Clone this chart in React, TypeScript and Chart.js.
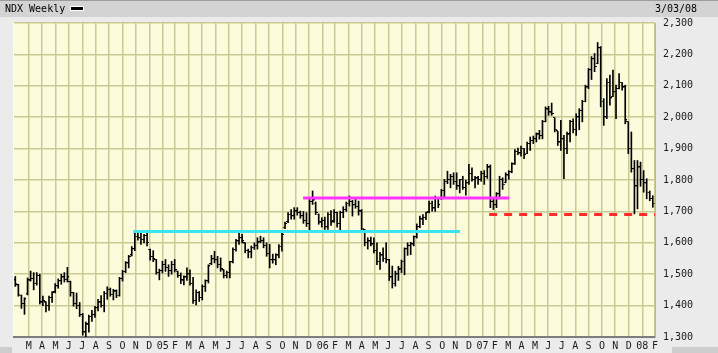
import React, { useEffect, useRef } from 'react';
import { Chart, registerables } from 'chart.js';

Chart.register(...registerables);

// Weekly OHLC of NDX, week index 0 = week of 1 Mar 2004 ... 208 = week of 25 Feb 2008
const highs = [
  1493, 1468, 1434, 1425, 1488, 1510, 1505, 1505, 1500, 1430,
  1412, 1430, 1445, 1470, 1485, 1500, 1505, 1522, 1478, 1442,
  1440, 1410, 1375, 1348, 1370, 1385, 1398, 1420, 1432, 1445,
  1460, 1456, 1452, 1450, 1490, 1512, 1540, 1560, 1588, 1630,
  1636, 1630, 1627, 1638, 1580, 1575, 1547, 1516, 1541, 1547,
  1530, 1541, 1547, 1510, 1504, 1495, 1520, 1514, 1490, 1450,
  1445, 1466, 1482, 1530, 1560, 1573, 1557, 1552, 1514, 1510,
  1541, 1584, 1611, 1632, 1627, 1600, 1580, 1590, 1600, 1616,
  1621, 1616, 1600, 1595, 1564, 1565, 1594, 1632, 1666, 1696,
  1706, 1712, 1712, 1701, 1700, 1696, 1738, 1765, 1730, 1692,
  1680, 1682, 1696, 1703, 1706, 1698, 1701, 1715, 1730, 1749,
  1735, 1740, 1733, 1706, 1643, 1616, 1618, 1616, 1600, 1570,
  1584, 1600, 1547, 1526, 1510, 1525, 1545, 1584, 1600, 1602,
  1622, 1660, 1685, 1690, 1698, 1733, 1733, 1749, 1743, 1770,
  1802, 1828, 1818, 1823, 1823, 1802, 1812, 1800, 1850, 1839,
  1812, 1812, 1828, 1830, 1850, 1848, 1743, 1760, 1812, 1807,
  1823, 1830, 1855, 1897, 1902, 1908, 1900, 1921, 1937, 1940,
  1950, 1958, 1990, 2033, 2035, 2045, 1998, 1955, 1990, 1942,
  1953, 1990, 1995, 2011, 2027, 2054, 2102, 2155, 2193, 2203,
  2238, 2225, 2059, 2123, 2134, 2150, 2102, 2139, 2110, 2102,
  1985, 1953, 1862, 1862, 1857, 1830, 1804, 1765, 1750,
];

const lows = [
  1461, 1430, 1391, 1372, 1434, 1478, 1450, 1465, 1405, 1400,
  1380, 1385, 1410, 1440, 1455, 1468, 1475, 1475, 1430, 1398,
  1390, 1365, 1306, 1300, 1315, 1350, 1362, 1383, 1395, 1380,
  1420, 1430, 1418, 1425, 1430, 1478, 1505, 1520, 1558, 1575,
  1608, 1595, 1600, 1590, 1545, 1540, 1500, 1482, 1504, 1509,
  1493, 1500, 1507, 1490, 1470, 1466, 1480, 1465, 1407, 1402,
  1413, 1418, 1445, 1472, 1530, 1536, 1520, 1509, 1488, 1488,
  1488, 1536, 1573, 1595, 1600, 1568, 1552, 1552, 1579, 1580,
  1600, 1584, 1557, 1520, 1535, 1530, 1552, 1573, 1645, 1664,
  1675, 1675, 1688, 1678, 1662, 1652, 1637, 1722, 1690, 1659,
  1650, 1643, 1643, 1655, 1665, 1650, 1637, 1680, 1700, 1717,
  1685, 1710, 1688, 1640, 1590, 1580, 1590, 1568, 1530, 1515,
  1541, 1536, 1480, 1456, 1462, 1480, 1505, 1498, 1560, 1562,
  1590, 1615, 1648, 1658, 1674, 1695, 1701, 1700, 1712, 1738,
  1743, 1788, 1775, 1786, 1770, 1759, 1770, 1752, 1786, 1796,
  1775, 1786, 1796, 1786, 1805, 1712, 1706, 1712, 1740, 1770,
  1791, 1802, 1823, 1850, 1881, 1876, 1868, 1884, 1894, 1916,
  1921, 1930, 1931, 1985, 2006, 2006, 1953, 1910, 1894, 1804,
  1884, 1921, 1950, 1942, 1960, 1985, 2049, 2091, 2120, 2145,
  2170, 2033, 1974, 1995, 2038, 2065, 1995, 2090, 2086, 1979,
  1884, 1825, 1692, 1708, 1780, 1761, 1740, 1734, 1713,
];

const opens = [
  1480, 1465, 1432, 1405, 1436, 1480, 1485, 1470, 1495, 1410,
  1410, 1400, 1425, 1442, 1462, 1478, 1490, 1482, 1475, 1440,
  1405, 1400, 1370, 1315, 1340, 1365, 1370, 1392, 1410, 1400,
  1438, 1450, 1435, 1445, 1432, 1485, 1508, 1535, 1560, 1580,
  1620, 1615, 1610, 1622, 1578, 1555, 1545, 1505, 1510, 1530,
  1520, 1510, 1530, 1508, 1495, 1480, 1490, 1500, 1470, 1415,
  1440, 1425, 1460, 1478, 1532, 1548, 1545, 1530, 1512, 1495,
  1505, 1540, 1578, 1605, 1615, 1598, 1575, 1570, 1585, 1590,
  1602, 1605, 1590, 1565, 1545, 1545, 1560, 1588, 1648, 1666,
  1690, 1685, 1700, 1695, 1685, 1670, 1660, 1730, 1725, 1690,
  1665, 1670, 1650, 1690, 1668, 1695, 1660, 1695, 1705, 1725,
  1730, 1720, 1715, 1700, 1640, 1600, 1605, 1595, 1575, 1540,
  1560, 1550, 1545, 1490, 1470, 1500, 1515, 1540, 1580, 1590,
  1595, 1618, 1650, 1675, 1680, 1697, 1725, 1710, 1740, 1740,
  1765, 1795, 1800, 1810, 1795, 1780, 1800, 1775, 1790, 1820,
  1800, 1805, 1800, 1820, 1810, 1840, 1730, 1720, 1755, 1800,
  1791, 1815, 1825, 1850, 1890, 1885, 1900, 1884, 1915, 1925,
  1930, 1945, 1940, 1985, 2025, 2015, 1998, 1955, 1920, 1930,
  1900, 1945, 1985, 1960, 2000, 2020, 2050, 2095, 2150, 2185,
  2170, 2220, 2050, 2000, 2110, 2065, 2080, 2090, 2110, 2095,
  1985, 1900, 1835, 1780, 1840, 1800, 1790, 1760, 1740,
];

const closes = [
  1470, 1435, 1405, 1420, 1480, 1485, 1470, 1495, 1410, 1415,
  1400, 1425, 1440, 1462, 1478, 1490, 1482, 1490, 1440, 1405,
  1400, 1370, 1315, 1340, 1365, 1370, 1392, 1410, 1400, 1438,
  1450, 1435, 1445, 1432, 1485, 1508, 1535, 1555, 1580, 1620,
  1615, 1610, 1622, 1600, 1555, 1548, 1505, 1510, 1530, 1520,
  1510, 1530, 1512, 1495, 1480, 1490, 1500, 1470, 1415, 1440,
  1425, 1460, 1478, 1525, 1548, 1545, 1530, 1515, 1495, 1505,
  1538, 1578, 1605, 1615, 1605, 1575, 1570, 1585, 1590, 1600,
  1605, 1590, 1565, 1545, 1545, 1560, 1588, 1625, 1660, 1690,
  1685, 1700, 1695, 1685, 1670, 1660, 1730, 1735, 1695, 1665,
  1670, 1650, 1690, 1665, 1695, 1660, 1695, 1705, 1725, 1730,
  1720, 1715, 1700, 1645, 1600, 1605, 1595, 1575, 1540, 1560,
  1550, 1545, 1490, 1470, 1500, 1515, 1540, 1580, 1590, 1595,
  1618, 1650, 1675, 1680, 1695, 1725, 1710, 1740, 1720, 1765,
  1795, 1800, 1810, 1795, 1780, 1800, 1775, 1790, 1820, 1800,
  1805, 1800, 1820, 1810, 1840, 1730, 1720, 1755, 1800, 1785,
  1815, 1825, 1850, 1890, 1885, 1900, 1880, 1915, 1925, 1930,
  1945, 1940, 1985, 2025, 2015, 2010, 1960, 1920, 1930, 1900,
  1945, 1985, 1960, 2000, 2020, 2050, 2095, 2150, 2185, 2160,
  2220, 2050, 2000, 2110, 2060, 2080, 2090, 2110, 2095, 1990,
  1900, 1835, 1780, 1840, 1800, 1790, 1760, 1740, 1725,
];

// month labels placed on the monthly grid lines (Apr 2004 ... Mar 2008 boundaries)
const monthLabels = [
  'M', 'A', 'M', 'J', 'J', 'A', 'S', 'O', 'N', 'D', '05', 'F',
  'M', 'A', 'M', 'J', 'J', 'A', 'S', 'O', 'N', 'D', '06', 'F',
  'M', 'A', 'M', 'J', 'J', 'A', 'S', 'O', 'N', 'D', '07', 'F',
  'M', 'A', 'M', 'J', 'J', 'A', 'S', 'O', 'N', 'D', '08', 'F',
];

const yTickValues = [1300, 1400, 1500, 1600, 1700, 1800, 1900, 2000, 2100, 2200, 2300];

// drawn trend / support lines: [startWeek, endWeek], level
const cyanWeeks = [38.5, 145.1];
const cyanLevel = 1636;
const magentaWeeks = [93.9, 161.2];
const magentaLevel = 1743;
const redWeeks = [154.6, 208.72];
const redLevel = 1690;

const FONT = "'DejaVu Sans Mono', 'Liberation Mono', monospace";

export default function App() {
  const ref = useRef<HTMLCanvasElement>(null);

  useEffect(() => {
    const canvas = ref.current;
    if (!canvas) return;

    const mkTick = (left: boolean) => {
      const c = document.createElement('canvas');
      c.width = 4;
      c.height = 2;
      const g = c.getContext('2d')!;
      g.fillStyle = '#000';
      g.fillRect(left ? 0 : 2, 0, 2, 1);
      return c;
    };
    const openTick = mkTick(true);
    const closeTick = mkTick(false);

    const DAY = 86400000;
    const base = Date.UTC(2004, 2, 1);
    const gridPos = monthLabels.map((_, k) => (Date.UTC(2004, 3 + k, 1) - base) / DAY / 7);

    const bgPlugin = {
      id: 'bgPlugin',
      beforeDraw(chart: any) {
        const { ctx, chartArea: a, width, height } = chart;
        ctx.save();
        ctx.fillStyle = '#ebebeb';
        ctx.fillRect(0, 0, width, height);
        ctx.fillStyle = '#d3d3d3';
        ctx.fillRect(0, 0, width, 17);
        ctx.fillStyle = '#9c9c9c';
        ctx.fillRect(0, 0, width, 1);
        ctx.fillStyle = '#ffffff';
        ctx.fillRect(a.left - 1, a.top - 1, a.right - a.left + 1, a.bottom - a.top + 1);
        ctx.fillStyle = '#fcfcdc';
        ctx.fillRect(a.left, a.top, a.right - a.left, a.bottom - a.top);
        ctx.fillStyle = '#cdcdcd';
        ctx.fillRect(672, 347, 46, 6);
        ctx.fillRect(0, 347, 12, 6);
        ctx.restore();
      },
    };

    const idx = highs.map((_, i) => i);

    const chart = new Chart(canvas, {
      type: 'bar',
      data: {
        datasets: [
          {
            type: 'line',
            data: [
              { x: cyanWeeks[0], y: cyanLevel },
              { x: cyanWeeks[1], y: cyanLevel },
            ],
            borderColor: '#38e4f0',
            borderWidth: 3,
            pointRadius: 0,
            order: 0,
          } as any,
          {
            type: 'line',
            data: [
              { x: magentaWeeks[0], y: magentaLevel },
              { x: magentaWeeks[1], y: magentaLevel },
            ],
            borderColor: '#ff33ff',
            borderWidth: 3,
            pointRadius: 0,
            order: 0,
          } as any,
          {
            type: 'line',
            data: [
              { x: redWeeks[0], y: redLevel },
              { x: redWeeks[1], y: redLevel },
            ],
            borderColor: '#ff2a2a',
            borderWidth: 3,
            borderDash: [8, 7],
            pointRadius: 0,
            order: 0,
          } as any,
          {
            type: 'line',
            data: idx.map((i) => ({ x: i, y: opens[i] })),
            showLine: false,
            pointStyle: openTick,
            pointRadius: 2,
            order: 1,
          } as any,
          {
            type: 'line',
            data: idx.map((i) => ({ x: i, y: closes[i] })),
            showLine: false,
            pointStyle: closeTick,
            pointRadius: 2,
            order: 1,
          } as any,
          {
            type: 'bar',
            data: idx.map((i) => ({ x: i, y: [lows[i], highs[i]] })),
            backgroundColor: '#000000',
            borderWidth: 0,
            barThickness: 1,
            order: 2,
          } as any,
        ],
      },
      options: {
        responsive: false,
        animation: false,
        events: [],
        layout: { padding: { left: 14, top: 23, right: 0, bottom: 0 } },
        plugins: {
          legend: { display: false },
          tooltip: { enabled: false },
          title: { display: false },
        },
        scales: {
          x: {
            type: 'linear',
            offset: false,
            min: (14 - 15.3) / 3.065,
            max: gridPos[gridPos.length - 1],
            afterBuildTicks: (scale: any) => {
              scale.ticks = gridPos.map((v) => ({ value: v }));
            },
            afterFit: (scale: any) => {
              scale.height = 16;
            },
            grid: {
              color: '#c9c994',
              lineWidth: 1.5,
              drawTicks: false,
              offset: false,
            },
            border: { display: true, color: '#7d7d7d', width: 2 },
            ticks: {
              autoSkip: false,
              maxRotation: 0,
              minRotation: 0,
              padding: 3,
              color: '#1a1a1a',
              font: { family: FONT, size: 10 },
              callback: (_v: any, i: number) => monthLabels[i],
            },
          },
          y: {
            type: 'linear',
            position: 'right',
            min: 1300,
            max: 2300,
            afterBuildTicks: (scale: any) => {
              scale.ticks = yTickValues.map((v) => ({ value: v }));
            },
            afterFit: (scale: any) => {
              scale.width = 63;
            },
            grid: {
              color: '#c9c994',
              lineWidth: 1.5,
              drawTicks: false,
            },
            border: { display: true, color: '#b9b98a', width: 1 },
            ticks: {
              padding: 8,
              color: '#1a1a1a',
              font: { family: FONT, size: 10 },
              callback: (v: any) => Number(v).toLocaleString('en-US'),
            },
          },
        },
      },
      plugins: [bgPlugin],
    } as any);

    return () => chart.destroy();
  }, []);

  const textStyle: React.CSSProperties = {
    position: 'absolute',
    fontFamily: FONT,
    fontSize: '10px',
    lineHeight: '10px',
    color: '#000',
    whiteSpace: 'pre',
  };

  return (
    <div style={{ position: 'fixed', left: 0, top: 0, width: 718, height: 353, overflow: 'hidden' }}>
      <canvas ref={ref} width={718} height={353} style={{ display: 'block', width: 718, height: 353 }} />
      <div style={{ ...textStyle, left: 5, top: 4 }}>NDX Weekly</div>
      <div
        style={{
          position: 'absolute',
          left: 70,
          top: 6,
          width: 12,
          height: 3,
          background: '#000',
          border: '1px solid #fff',
        }}
      />
      <div style={{ ...textStyle, left: 655, top: 4 }}>3/03/08</div>
    </div>
  );
}
